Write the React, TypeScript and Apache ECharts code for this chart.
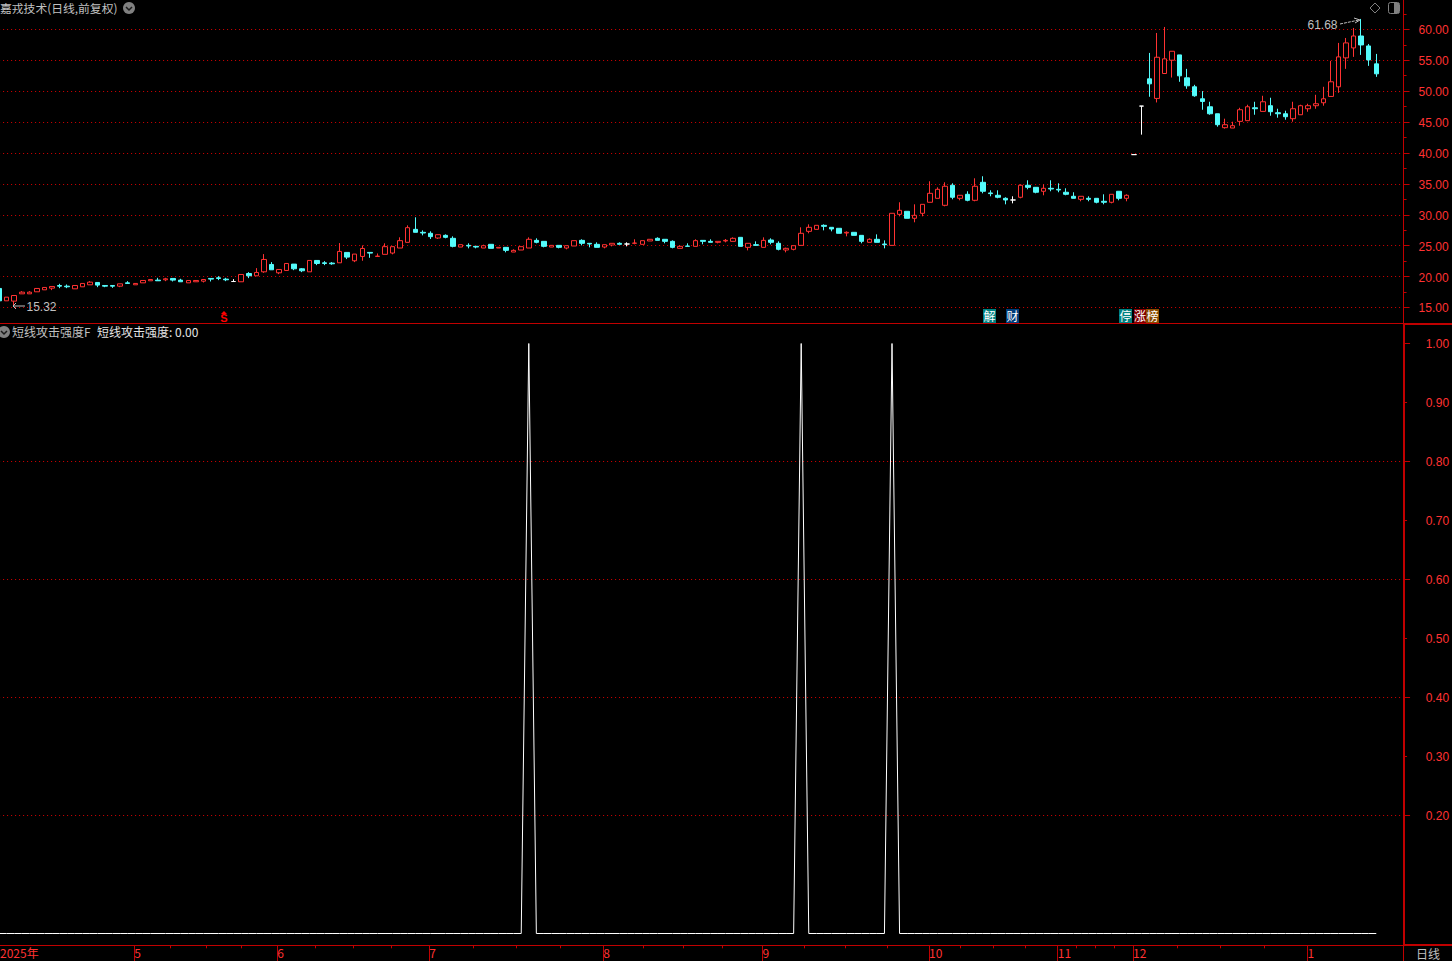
import React, { useEffect, useRef } from "react";
import * as echarts from "echarts";

const opens = [
  18.08,16.08,16.03,17.21,17.21,17.54,17.86,18.13,18.56,18.45,
  18.02,18.35,18.67,19.05,18.56,18.56,18.45,18.99,18.67,18.99,
  19.32,19.43,19.48,19.70,19.43,18.99,19.16,19.26,19.70,19.80,
  19.59,19.20,19.16,20.50,20.13,20.77,21.96,20.61,20.99,22.02,
  21.26,20.77,22.61,22.23,22.18,22.23,23.91,22.56,23.26,23.91,
  23.26,23.60,23.81,24.62,25.54,27.64,27.16,27.00,26.24,26.67,
  26.19,24.78,25.05,24.89,24.62,25.22,24.62,24.73,23.97,24.30,
  24.62,25.86,25.70,24.78,25.05,24.62,24.95,25.86,25.38,25.22,
  24.78,25.11,25.38,25.27,25.38,25.22,25.76,26.19,26.03,25.70,
  24.57,24.95,24.89,25.86,25.70,25.54,25.76,25.70,26.35,24.73,
  25.16,24.73,25.92,25.38,24.30,24.41,25.05,27.32,27.64,28.29,
  27.97,27.81,27.05,27.16,26.67,25.54,26.03,25.27,25.05,30.07,
  30.56,29.43,30.24,32.02,32.66,31.53,34.77,32.66,33.31,32.34,
  35.25,33.53,33.15,32.66,32.39,32.83,34.77,34.44,33.80,34.28,
  34.12,33.64,32.99,32.50,32.66,32.66,32.18,32.02,33.80,32.66,
  39.73,47.58,51.99,48.82,52.85,55.00,55.86,52.15,50.70,48.76,
  47.47,46.34,44.09,44.03,45.11,45.22,47.31,46.72,47.64,46.51,
  46.34,45.54,46.18,47.15,47.64,48.12,49.14,50.70,55.38,56.99,
  58.92,57.31,54.41,
];
const closes = [
  16.08,16.67,16.94,17.48,17.48,18.08,18.24,18.40,18.45,18.35,
  18.56,18.89,19.10,18.62,18.45,18.45,18.83,18.89,18.89,19.37,
  19.53,19.32,19.64,19.43,19.16,19.37,19.37,19.53,19.59,19.70,
  19.48,19.20,20.34,20.13,20.67,22.77,21.10,21.15,22.12,21.26,
  20.94,22.61,22.12,22.12,22.07,24.07,23.15,23.64,24.55,23.80,
  23.31,24.84,24.84,25.81,27.91,27.16,27.05,26.46,26.78,26.35,
  24.89,25.16,24.95,24.78,25.00,24.57,24.73,24.24,24.24,24.84,
  26.03,25.54,24.89,25.05,24.73,25.00,25.81,25.38,25.27,24.73,
  25.16,25.38,25.22,25.27,25.43,25.81,26.03,25.86,25.70,24.73,
  24.89,24.89,25.81,25.70,25.54,25.70,25.86,26.19,24.89,25.38,
  25.05,25.86,25.54,24.41,24.57,25.00,27.00,27.97,28.29,28.13,
  27.70,27.00,27.16,26.67,25.70,26.03,25.54,25.16,30.24,30.72,
  29.43,29.91,31.69,33.47,34.12,34.61,32.83,33.15,32.34,34.61,
  33.80,33.42,32.83,32.39,32.39,34.77,34.44,33.64,34.28,34.17,
  34.01,33.31,32.66,32.99,32.50,32.02,32.02,33.31,32.66,33.15,
  39.73,47.58,51.18,55.48,55.22,56.45,52.47,50.86,49.25,48.33,
  46.34,44.57,44.57,44.41,46.99,47.47,47.15,48.28,46.67,46.34,
  45.86,47.15,47.64,47.64,47.96,48.76,51.51,55.54,57.80,58.92,
  57.47,55.05,52.80,
];
const lows = [
  15.90,16.08,15.32,17.21,17.21,17.54,17.86,17.81,18.13,18.13,
  18.02,18.35,18.67,18.29,18.29,18.18,18.29,18.89,18.67,18.99,
  19.32,19.32,19.26,19.21,19.16,18.99,19.16,19.05,19.21,19.43,
  19.26,19.16,19.16,19.75,20.13,20.61,21.10,20.40,20.99,21.04,
  20.72,20.77,21.85,21.85,21.91,22.23,22.83,22.34,22.56,23.04,
  23.26,23.60,23.60,24.62,25.54,27.16,26.67,26.08,26.08,26.19,
  24.73,24.78,24.57,24.57,24.62,24.57,24.62,23.92,23.97,24.30,
  24.62,25.38,24.73,24.78,24.57,24.41,24.95,25.05,24.73,24.73,
  24.57,24.89,25.22,24.89,25.22,25.22,25.76,25.86,25.38,24.57,
  24.57,24.89,24.89,25.22,25.54,25.38,25.54,25.70,24.89,24.24,
  25.05,24.73,25.22,24.24,23.92,24.24,25.05,27.00,27.64,27.48,
  27.32,27.00,26.51,26.67,25.38,25.54,25.54,24.57,25.05,29.75,
  29.43,28.78,29.75,32.02,32.66,31.37,32.50,32.34,32.18,32.18,
  33.47,32.99,32.66,31.69,31.85,32.66,34.12,33.47,33.15,33.80,
  33.64,33.15,32.66,32.18,32.18,31.85,31.69,31.85,32.34,32.18,
  39.73,42.96,49.09,48.17,52.85,52.20,51.51,50.38,49.09,46.99,
  46.18,44.25,43.93,44.03,44.41,45.22,46.18,46.72,46.02,45.70,
  45.38,45.05,46.18,46.67,47.15,47.64,49.14,49.73,53.60,55.54,
  55.86,54.09,52.31,
];
const highs = [
  18.08,16.67,16.94,17.64,17.64,18.08,18.24,18.40,18.83,18.72,
  18.56,18.89,19.26,19.05,18.56,18.56,18.83,19.26,18.89,19.37,
  19.53,19.80,19.80,19.70,19.64,19.37,19.37,19.53,19.70,20.07,
  19.80,19.59,20.34,20.72,21.37,23.64,22.34,21.15,22.12,22.02,
  21.37,22.61,22.61,22.50,22.34,25.42,23.91,23.64,25.04,23.91,
  23.74,25.38,24.84,26.35,28.29,29.59,27.48,27.32,26.78,26.83,
  26.51,25.16,25.38,24.89,25.16,25.22,24.73,24.73,24.41,24.84,
  26.35,26.19,25.70,25.05,25.05,25.00,25.81,26.03,25.38,25.54,
  25.16,25.38,25.54,25.54,26.03,25.81,26.03,26.35,26.03,25.86,
  25.05,25.38,26.03,25.86,26.03,25.70,26.08,26.35,26.35,25.38,
  25.70,26.35,26.19,25.70,24.68,25.00,27.97,28.45,28.29,28.45,
  27.97,27.81,27.32,27.16,26.67,26.19,26.83,25.86,30.24,32.02,
  30.56,31.69,31.69,35.42,34.44,35.25,35.09,33.15,33.80,35.90,
  36.23,33.96,33.96,32.83,32.99,34.93,35.58,34.44,34.93,35.58,
  35.09,34.28,33.64,32.99,32.99,32.66,33.31,33.31,33.80,33.31,
  39.73,47.58,56.18,59.41,60.38,56.45,55.86,53.60,51.02,50.00,
  48.28,46.34,45.54,45.05,47.31,47.80,48.28,49.25,48.93,47.15,
  46.83,48.28,47.80,47.96,49.41,50.70,54.89,57.80,58.60,60.22,
  61.68,57.63,56.02,
];
const attackStrength = [
  0,0,0,0,0,0,0,0,0,0,0,0,0,0,0,0,0,0,0,0,
  0,0,0,0,0,0,0,0,0,0,0,0,0,0,0,0,0,0,0,0,
  0,0,0,0,0,0,0,0,0,0,0,0,0,0,0,0,0,0,0,0,
  0,0,0,0,0,0,0,0,0,0,1,0,0,0,0,0,0,0,0,0,
  0,0,0,0,0,0,0,0,0,0,0,0,0,0,0,0,0,0,0,0,
  0,0,0,0,0,0,1,0,0,0,0,0,0,0,0,0,0,0,1,0,
  0,0,0,0,0,0,0,0,0,0,0,0,0,0,0,0,0,0,0,0,
  0,0,0,0,0,0,0,0,0,0,0,0,0,0,0,0,0,0,0,0,
  0,0,0,0,0,0,0,0,0,0,0,0,0,0,0,0,0,0,0,0,
  0,0,0,
];
const priceLabels = [15, 20, 25, 30, 35, 40, 45, 50, 55, 60];
const priceMinorTicks = [17.5, 22.5, 27.5, 32.5, 37.5, 42.5, 47.5, 52.5, 57.5, 62.5];
const strengthMajor = [0.2, 0.4, 0.6, 0.8];
const strengthTop = [1.0];
const strengthMinor = [0.3, 0.5, 0.7, 0.9];
const monthTicks = [17.87, 36.76, 56.85, 79.85, 100.88, 122.89, 139.9, 149.85, 172.9];
const monthNames = ["5", "6", "7", "8", "9", "10", "11", "12", "1"];
const weekTicks = [
  22.68, 27.4, 32.0, 41.8, 46.8, 51.8, 62.67, 68.35, 74.2, 85.1, 90.4, 95.57,
  106.45, 111.8, 117.4, 127.05, 131.4, 135.6, 142.4, 144.8, 147.4, 155.66, 161.4, 167.2,
];
const flagBoxes = [
  { label: "解", x: 983, w: 13, fill: "#008080" },
  { label: "财", x: 1006, w: 13, fill: "#003c78" },
  { label: "停", x: 1119, w: 13, fill: "#008080" },
  { label: "涨", x: 1134, w: 12, fill: "#800000" },
  { label: "榜", x: 1146, w: 13, fill: "#8a4a00" },
];

const RED = "#ff3232";
const CYAN = "#54fcfc";
const AXIS = "#c00000";
const GRID = "#d80000";
const GREY = "#c0c0c0";
const CJK = '"Noto Sans CJK SC", sans-serif';
const LATIN = '"Liberation Sans", Arial, sans-serif';

const categories = Array.from({ length: 187 }, (_, i) => String(i));
const candleData = opens.map((o, i) => [o, closes[i], lows[i], highs[i]]);

const GRID_LEFT = -0.9;
const GRID_WIDTH = 1407.46;

function yBase(gridIndex: number, extra: any, min: number, max: number) {
  return {
    type: "value",
    gridIndex,
    min,
    max,
    position: "right",
    scale: true,
    silent: true,
    axisLine: { show: false, onZero: false },
    axisTick: { show: false },
    axisLabel: { show: false },
    splitLine: { show: false },
    ...extra,
  };
}
const labelStyle = {
  color: RED,
  fontSize: 12,
  fontFamily: LATIN,
  align: "right",
  margin: 45,
  formatter: (v: number) => v.toFixed(2),
};

function txt(text: string, x: number, y: number, fill = GREY, extra: any = {}) {
  return {
    type: "text",
    x,
    y,
    silent: true,
    z: 50,
    style: {
      text,
      fill,
      font: `12px ${CJK}`,
      textVerticalAlign: "middle",
      verticalAlign: "middle",
      ...extra,
    },
  };
}
function chevronIcon(cx: number, cy: number) {
  return [
    { type: "circle", silent: true, z: 50, shape: { cx, cy, r: 6 }, style: { fill: "#808080" } },
    {
      type: "polyline",
      silent: true,
      z: 51,
      shape: { points: [[cx - 3, cy - 1], [cx, cy + 2], [cx + 3, cy - 1]] },
      style: { stroke: "#1a1a1a", lineWidth: 1.5, fill: "none" },
    },
  ];
}

export default function App() {
  const ref = useRef<HTMLDivElement>(null);
  useEffect(() => {
    document.body.style.margin = "0";
    document.body.style.background = "#000";
    const chart = echarts.init(ref.current!, undefined, { renderer: "svg" });
    const graphic: any[] = [
      // pane frames
      { type: "line", silent: true, z: 41, shape: { x1: 0, y1: 323.5, x2: 1452, y2: 323.5 }, style: { stroke: AXIS, lineWidth: 1 } },
      { type: "rect", silent: true, z: 41, shape: { x: 1403, y: 323, width: 49, height: 2 }, style: { fill: AXIS } },
      { type: "line", silent: true, z: 41, shape: { x1: 0, y1: 945.5, x2: 1452, y2: 945.5 }, style: { stroke: AXIS, lineWidth: 1 } },
      { type: "rect", silent: true, z: 41, shape: { x: 1403, y: 944, width: 49, height: 2 }, style: { fill: AXIS } },
      { type: "line", silent: true, z: 41, shape: { x1: 1403.5, y1: 945, x2: 1403.5, y2: 961 }, style: { stroke: AXIS, lineWidth: 1 } },
      // titles
      txt("嘉戎技术(日线,前复权)", 0, 7.5, GREY, { font: `11.8px ${CJK}` }),
      ...chevronIcon(129, 8),
      ...chevronIcon(4, 332),
      txt("短线攻击强度F", 12, 331),
      txt("短线攻击强度: 0.00", 97, 331, "#e4e4e4"),
      txt("日线", 1416, 953),
      // window icons
      {
        type: "polygon",
        silent: true,
        z: 50,
        shape: { points: [[1375, 3], [1380, 8], [1375, 13], [1370, 8]] },
        style: { stroke: "#808080", fill: "none", lineWidth: 1 },
      },
      { type: "rect", silent: true, z: 50, shape: { x: 1388.5, y: 2.5, width: 11, height: 11, r: 2 }, style: { stroke: "#808080", fill: "none", lineWidth: 1 } },
      { type: "rect", silent: true, z: 50, shape: { x: 1394, y: 3, width: 5, height: 10 }, style: { fill: "#808080" } },
      // extreme annotations
      txt("61.68", 1307.5, 25, GREY, { font: `12px ${LATIN}` }),
      {
        type: "polyline",
        silent: true,
        z: 50,
        shape: { points: [[1340, 24], [1359, 20]] },
        style: { stroke: GREY, lineWidth: 1, lineDash: [3, 1], fill: "none" },
      },
      {
        type: "polyline",
        silent: true,
        z: 50,
        shape: { points: [[1354, 18], [1360, 20], [1355, 23]] },
        style: { stroke: GREY, lineWidth: 1, fill: "none" },
      },
      txt("15.32", 26.5, 307, GREY, { font: `12px ${LATIN}` }),
      {
        type: "polyline",
        silent: true,
        z: 50,
        shape: { points: [[13, 306], [25, 306]] },
        style: { stroke: GREY, lineWidth: 1, fill: "none" },
      },
      {
        type: "polyline",
        silent: true,
        z: 50,
        shape: { points: [[16, 303], [13, 306], [16, 309]] },
        style: { stroke: GREY, lineWidth: 1, fill: "none" },
      },
      // S marker
      {
        type: "polygon",
        silent: true,
        z: 50,
        shape: { points: [[224, 311], [227, 314], [221, 314]] },
        style: { fill: "#ff0000" },
      },
      txt("S", 224, 318, "#ff0000", { font: `bold 11px ${LATIN}`, textAlign: "center", align: "center" }),
    ];
    flagBoxes.forEach((b) => {
      graphic.push({
        type: "rect",
        silent: true,
        z: 50,
        shape: { x: b.x, y: 309, width: b.w, height: 14 },
        style: { fill: b.fill },
      });
      graphic.push(txt(b.label, b.x + b.w / 2, 315.5, "#ffffff", { textAlign: "center", align: "center" }));
    });

    chart.setOption({
      animation: false,
      backgroundColor: "#000",
      tooltip: { show: false },
      grid: [
        { left: GRID_LEFT, top: -1.6, width: GRID_WIDTH, height: 324.55, outerBoundsMode: "none", containLabel: false },
        { left: GRID_LEFT, top: 324.62, width: GRID_WIDTH, height: 620.68, outerBoundsMode: "none", containLabel: false },
      ],
      xAxis: [
        {
          type: "category",
          gridIndex: 0,
          data: categories,
          boundaryGap: false,
          axisLine: { show: false },
          axisTick: { show: false },
          axisLabel: { show: false },
          splitLine: { show: false },
        },
        {
          type: "category",
          gridIndex: 1,
          data: categories,
          boundaryGap: false,
          axisLine: { show: false },
          axisTick: { show: false },
          axisLabel: { show: false },
          splitLine: { show: false },
        },
        {
          type: "value",
          gridIndex: 1,
          position: "bottom",
          min: 0,
          max: 186,
          axisLine: { show: true, onZero: false, lineStyle: { color: AXIS } },
          axisTick: { show: true, length: 16, customValues: monthTicks, lineStyle: { color: AXIS } },
          axisLabel: {
            show: true,
            customValues: [0.12, ...monthTicks],
            color: RED,
            fontSize: 12,
            fontFamily: CJK,
            align: "left",
            verticalAlign: "top",
            margin: 1,
            formatter: (v: number) => {
              const k = monthTicks.indexOf(v);
              return k >= 0 ? monthNames[k] : "2025年";
            },
          },
          splitLine: { show: false },
        },
        {
          type: "value",
          gridIndex: 1,
          position: "bottom",
          min: 0,
          max: 186,
          axisLine: { show: false, onZero: false },
          axisTick: { show: true, length: 3, customValues: weekTicks, lineStyle: { color: AXIS } },
          axisLabel: { show: false },
          splitLine: { show: false },
        },
      ],
      yAxis: [
        yBase(0, {
          offset: -3,
          axisLine: { show: true, onZero: false, lineStyle: { color: AXIS, width: 1 } },
          axisTick: { show: true, length: 6, customValues: priceLabels, lineStyle: { color: AXIS } },
          splitLine: { show: true, lineStyle: { color: GRID, type: [1, 3], width: 1 } },
        }, 12.5, 65),
        yBase(0, {
          offset: -3,
          axisTick: { show: true, length: 3, customValues: priceMinorTicks, lineStyle: { color: AXIS } },
        }, 12.5, 65),
        yBase(0, {
          offset: -3,
          axisLabel: { show: true, customValues: priceLabels, ...labelStyle },
        }, 12.66, 65.16),
        yBase(1, {
          offset: -2.5,
          axisLine: { show: true, onZero: false, lineStyle: { color: AXIS, width: 2 } },
          axisTick: { show: true, length: 6, customValues: strengthMajor, lineStyle: { color: AXIS } },
          axisLabel: { show: true, customValues: strengthMajor, ...labelStyle },
          splitLine: { show: true, lineStyle: { color: GRID, type: [1, 3], width: 1 } },
        }, -0.02, 1.032),
        yBase(1, {
          offset: -2.5,
          axisTick: { show: true, length: 6, customValues: strengthTop, lineStyle: { color: AXIS } },
          axisLabel: { show: true, customValues: strengthTop, ...labelStyle },
        }, -0.02, 1.032),
        yBase(1, {
          offset: -2.5,
          axisTick: { show: true, length: 3, customValues: strengthMinor, lineStyle: { color: AXIS } },
          axisLabel: { show: true, customValues: strengthMinor, ...labelStyle },
        }, -0.02, 1.032),
      ],
      series: [
        {
          type: "candlestick",
          name: "K",
          xAxisIndex: 0,
          yAxisIndex: 0,
          data: candleData,
          barWidth: 5,
          silent: true,
          itemStyle: {
            color: "#000",
            color0: CYAN,
            borderColor: RED,
            borderColor0: CYAN,
            borderColorDoji: "#ffffff",
            borderWidth: 1,
          },
        },
        {
          type: "line",
          name: "短线攻击强度",
          xAxisIndex: 1,
          yAxisIndex: 3,
          data: attackStrength,
          symbol: "none",
          silent: true,
          lineStyle: { color: "#ffffff", width: 1 },
        },
      ],
      graphic: { elements: graphic },
    });
    return () => chart.dispose();
  }, []);
  return (
    <div
      ref={ref}
      style={{ position: "absolute", left: 0, top: 0, width: 1452, height: 961, background: "#000" }}
    />
  );
}
